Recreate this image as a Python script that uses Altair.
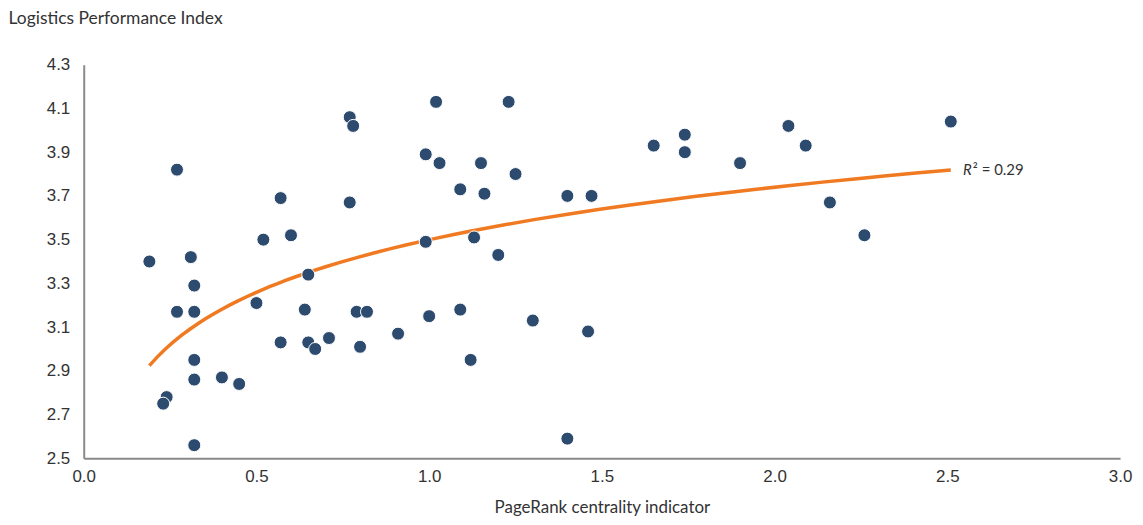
import altair as alt
import pandas as pd

# PageRank centrality indicator (x) and Logistics Performance Index (y)
pagerank = [0.19, 0.27, 0.27, 0.32, 0.31, 0.32, 0.32, 0.32, 0.24, 0.23, 0.32, 0.40,
            0.45, 0.50, 0.52, 0.57, 0.57, 0.60, 0.65, 0.64, 0.65, 0.67, 0.71, 0.77,
            0.78, 0.77, 0.79, 0.82, 0.80, 0.91, 1.02, 1.23, 0.99, 1.03, 1.15, 1.25,
            1.09, 1.16, 1.40, 1.47, 0.99, 1.13, 1.20, 1.00, 1.09, 1.12, 1.30, 1.46,
            1.40, 2.51, 2.04, 1.74, 1.65, 1.74, 2.09, 1.90, 2.16, 2.26]
lpi = [3.40, 3.82, 3.17, 3.17, 3.42, 3.29, 2.95, 2.86, 2.78, 2.75, 2.56, 2.87,
       2.84, 3.21, 3.50, 3.69, 3.03, 3.52, 3.34, 3.18, 3.03, 3.00, 3.05, 4.06,
       4.02, 3.67, 3.17, 3.17, 3.01, 3.07, 4.13, 4.13, 3.89, 3.85, 3.85, 3.80,
       3.73, 3.71, 3.70, 3.70, 3.49, 3.51, 3.43, 3.15, 3.18, 2.95, 3.13, 3.08,
       2.59, 4.04, 4.02, 3.98, 3.93, 3.90, 3.93, 3.85, 3.67, 3.52]

r2_r = ["R"]
r2_rest = ["² = 0.29"]
r2_x = [2.545]
r2_y = [3.82]

x_ticks = [0.0, 0.5, 1.0, 1.5, 2.0, 2.5, 3.0]
y_ticks = [2.5, 2.7, 2.9, 3.1, 3.3, 3.5, 3.7, 3.9, 4.1, 4.3]

df = pd.DataFrame({"x": pagerank, "y": lpi})
lab = pd.DataFrame({"x": r2_x, "y": r2_y, "r": r2_r, "t": r2_rest})

FONT = "Lato"
TXT = "#333333"

xscale = alt.Scale(domain=[0, 3.0], nice=False, zero=False)
yscale = alt.Scale(domain=[2.5, 4.3], nice=False, zero=False)

xaxis = alt.Axis(values=x_ticks, format=".1f", title="PageRank centrality indicator",
                 grid=False, ticks=False, domainColor="#8a8a8a", domainWidth=2,
                 labelFont="Liberation Sans", labelFontSize=17, labelColor=TXT,
                 labelPadding=10, labelFlush=False, titleFont=FONT, titleFontSize=17,
                 titleFontWeight="normal", titleColor=TXT, titlePadding=15)
yaxis = alt.Axis(values=y_ticks, format=".1f", title="Logistics Performance Index",
                 grid=False, ticks=False, domainColor="#8a8a8a", domainWidth=2,
                 labelFont="Liberation Sans", labelFontSize=17, labelColor=TXT,
                 labelPadding=14, labelFlush=False, titleFont=FONT, titleFontSize=17.5,
                 titleFontWeight="normal", titleColor=TXT, titleAngle=0,
                 titleAlign="left", titleBaseline="middle", titleX=-76, titleY=-46)

points = alt.Chart(df).mark_circle(size=170, color="#2d4b6e", opacity=1,
                                   stroke="white", strokeWidth=1).encode(
    x=alt.X("x:Q", scale=xscale, axis=xaxis),
    y=alt.Y("y:Q", scale=yscale, axis=yaxis),
)

trend = alt.Chart(df).transform_regression(
    "x", "y", method="log", extent=[0.19, 2.51]
).mark_line(color="#f07a22", strokeWidth=3.5).encode(
    x=alt.X("x:Q", scale=xscale),
    y=alt.Y("y:Q", scale=yscale),
)

text_r = alt.Chart(lab).mark_text(align="left", baseline="middle", font=FONT,
                                  fontSize=15, fontStyle="italic", color=TXT).encode(
    x=alt.X("x:Q", scale=xscale),
    y=alt.Y("y:Q", scale=yscale),
    text="r:N",
)
text_rest = alt.Chart(lab).mark_text(align="left", baseline="middle", font=FONT,
                                     fontSize=15, color=TXT, dx=10).encode(
    x=alt.X("x:Q", scale=xscale),
    y=alt.Y("y:Q", scale=yscale),
    text="t:N",
)

chart = alt.layer(trend, points, text_r, text_rest).properties(
    width=1040, height=395,
    autosize=alt.AutoSizeParams(type="none"),
    padding={"left": 76, "top": 56, "right": 15, "bottom": 58},
).configure_view(stroke=None)

chart.save("out.html", embed_options={"renderer": "svg", "actions": False})
